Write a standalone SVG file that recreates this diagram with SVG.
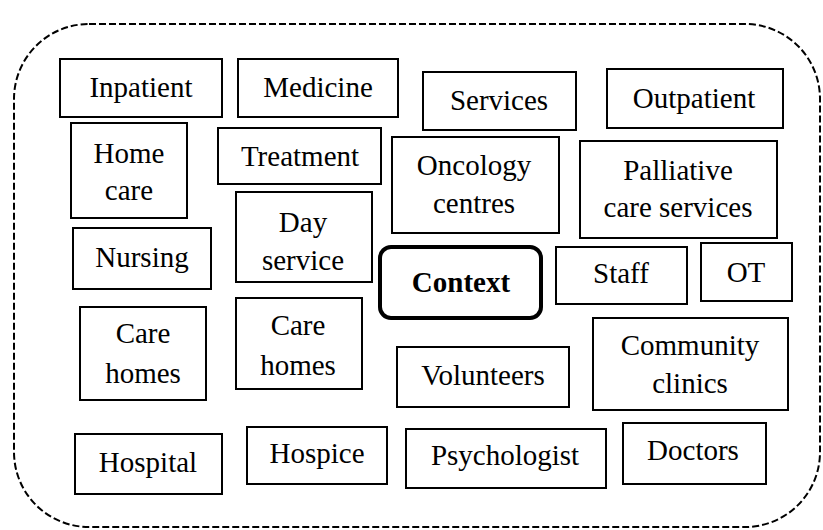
<svg xmlns="http://www.w3.org/2000/svg" width="823" height="530" viewBox="0 0 823 530">
<style>
.b{fill:#fff;stroke:#000;stroke-width:2}
.ctx{fill:#fff;stroke:#000;stroke-width:4}
</style>
<rect width="823" height="530" fill="#fff"/>
<rect x="14" y="24" width="806" height="503" rx="75" ry="75" fill="none" stroke="#000" stroke-width="2" stroke-dasharray="7,3"/>
<g id="connectors"></g>
<g font-family="'Liberation Serif', 'Times New Roman', serif" font-size="29" text-anchor="middle" fill="#000">
<g id="inpatient"><rect class="b" x="60" y="59" width="162" height="58"/><text x="141" y="97">Inpatient</text></g>
<g id="medicine"><rect class="b" x="238" y="59" width="160" height="58"/><text x="318" y="97">Medicine</text></g>
<g id="services"><rect class="b" x="423" y="72" width="153" height="58"/><text x="499" y="110">Services</text></g>
<g id="outpatient"><rect class="b" x="607" y="69" width="176" height="59"/><text x="694" y="108">Outpatient</text></g>
<g id="homecare"><rect class="b" x="71" y="123" width="116" height="95"/><text x="129" y="163">Home</text><text x="129" y="200">care</text></g>
<g id="treatment"><rect class="b" x="218" y="128" width="163" height="56"/><text x="300" y="166">Treatment</text></g>
<g id="oncology"><rect class="b" x="392" y="137" width="167" height="96"/><text x="474" y="175">Oncology</text><text x="474" y="213">centres</text></g>
<g id="palliative"><rect class="b" x="580" y="141" width="197" height="97"/><text x="678" y="180">Palliative</text><text x="678" y="217">care services</text></g>
<g id="dayservice"><rect class="b" x="236" y="192" width="136" height="90"/><text x="303" y="232">Day</text><text x="303" y="270">service</text></g>
<g id="nursing"><rect class="b" x="73" y="228" width="138" height="61"/><text x="142" y="267">Nursing</text></g>
<g id="context"><rect class="ctx" x="380" y="247" width="161" height="71" rx="11" ry="11"/><text x="461" y="292" font-weight="bold">Context</text></g>
<g id="staff"><rect class="b" x="556" y="247" width="131" height="57"/><text x="621" y="283">Staff</text></g>
<g id="ot"><rect class="b" x="701" y="243" width="91" height="58"/><text x="746" y="282">OT</text></g>
<g id="carehomes1"><rect class="b" x="80" y="307" width="126" height="93"/><text x="143" y="343">Care</text><text x="143" y="383">homes</text></g>
<g id="carehomes2"><rect class="b" x="236" y="298" width="126" height="91"/><text x="298" y="335">Care</text><text x="298" y="375">homes</text></g>
<g id="volunteers"><rect class="b" x="397" y="347" width="172" height="60"/><text x="483" y="385">Volunteers</text></g>
<g id="community"><rect class="b" x="593" y="318" width="195" height="92"/><text x="690" y="355">Community</text><text x="690" y="393">clinics</text></g>
<g id="hospital"><rect class="b" x="75" y="434" width="147" height="60"/><text x="148" y="472">Hospital</text></g>
<g id="hospice"><rect class="b" x="247" y="427" width="140" height="57"/><text x="317" y="463">Hospice</text></g>
<g id="psychologist"><rect class="b" x="406" y="429" width="200" height="59"/><text x="505" y="465">Psychologist</text></g>
<g id="doctors"><rect class="b" x="623" y="423" width="143" height="61"/><text x="693" y="460">Doctors</text></g>
</g>
</svg>
